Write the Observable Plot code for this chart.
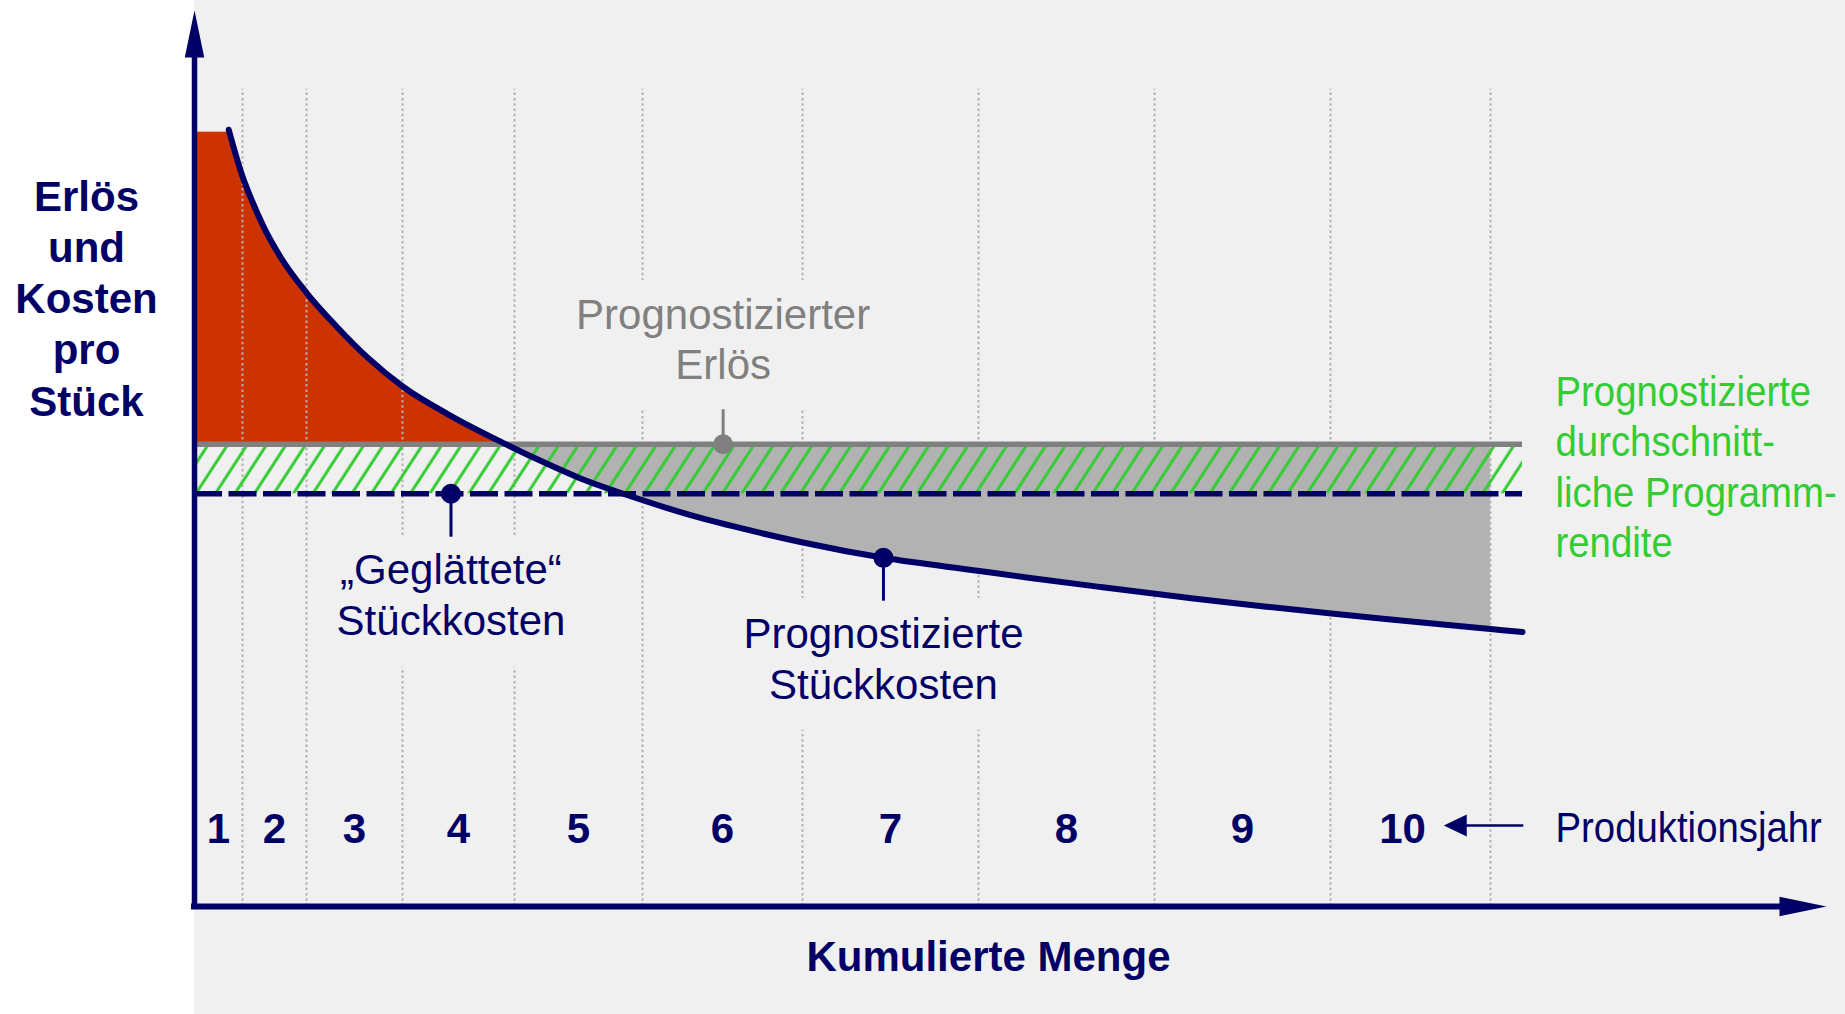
<!DOCTYPE html>
<html><head><meta charset="utf-8">
<script src="https://cdn.jsdelivr.net/npm/d3@7"></script>
<script src="https://cdn.jsdelivr.net/npm/@observablehq/plot@0.6"></script>
<style>
html,body{margin:0;padding:0;}
body{width:1845px;height:1014px;overflow:hidden;background:linear-gradient(to right,#ffffff 194px,#f0f0f0 194px);}
svg{display:block}
</style></head><body><div id="chart"></div>
<script>
// ---- data ----
const years = ["1","2","3","4","5","6","7","8","9","10"];
const annualVolume = [3,4,6,7,8,10,11,11,11,10];           // Menge je Produktionsjahr
const costX = [2.14,2.98,3.5,4.33,5.38,7.04,8.92,10.79,13.08,15.79,19.13,22.04,24.13,26.75,28.06,31.63,35.53,37.88,43.06,49.06,52.25,56.63,60.04,62.56,67.0,71.06,74.44,81.0,83.0];
const costY = [100.56,94.64,91.83,87.95,84.06,79.36,75.0,71.12,67.23,63.79,60.18,57.31,55.41,53.47,52.56,50.30,48.29,47.19,45.14,43.44,42.53,41.36,40.48,39.85,38.81,37.93,37.23,35.93,35.53];
const initialCostCap = 100.25;    // Stückkosten bei Menge 0
const revenue = 59.85;            // Prognostizierter Erlös
const smoothedCost = 53.43;       // "Geglättete" Stückkosten
const lineEnd = 83;               // Ende der Linien (kumulierte Menge)
const yTitle = "Erlös\nund\nKosten\npro\nStück";
const xTitle = "Kumulierte Menge";
const yearCaption = "Produktionsjahr";
const revenueLabel = "Prognostizierter\nErlös";
const smoothedLabel = "„Geglättete“\nStückkosten";
const costLabel = "Prognostizierte\nStückkosten";
const returnLabel = "Prognostizierte\ndurchschnitt-\nliche Programm-\nrendite";
const markerCostX = 43.06, markerCostY = 45.14;
const markerSmoothX = 16.03;
const markerRevenueX = 33.04;

// ---- derived ----
const yearEnds = d3.cumsum(annualVolume);
const yearTable = years.map((label, i) => {
  const start = i === 0 ? 0 : yearEnds[i - 1], end = yearEnds[i];
  return {label, start, end, mid: (start + end) / 2};
});
const cost = costX.map((x, i) => ({x, y: costY[i]}));
const grayData = cost.filter(d => d.x <= yearEnds[yearEnds.length - 1]);

const navy = "#000066", green = "#33cc33", grayLine = "#808080", grayFill = "#b2b2b2", red = "#cc3300", bg = "#f0f0f0";
const font = "Liberation Sans, Arial, Helvetica, sans-serif";

const arrowSymbol = (len, w) => ({draw(ctx) { ctx.moveTo(0, 0); ctx.lineTo(w / 2, len); ctx.lineTo(-w / 2, len); ctx.closePath(); }});
const bigArrow = arrowSymbol(47, 19.5);
const smallArrow = arrowSymbol(23, 22);

const labelMasks = [
  {x1: 22.9, x2: 42.8, y1: 64.2, y2: 81.05},
  {x1: 33.8, x2: 52.25, y1: 22.8, y2: 39.9},
  {x1: 8.5, x2: 23.5, y1: 30.9, y2: 47.9}
];

const txt = {fontSize: 42, fontFamily: font, text: d => d};
const yearText = {x: "mid", frameAnchor: "bottom", dy: -64, text: "label", lineAnchor: "bottom", textAnchor: "middle", fontSize: 42, fontWeight: "bold", fill: navy, fontFamily: font};

const svg = Plot.plot({
  width: 1845, height: 1014,
  marginLeft: 194, marginRight: 19, marginTop: 10, marginBottom: 108,
  x: {domain: [0, 102], axis: null},
  y: {domain: [0, 116], axis: null},
  style: {background: "transparent", fontFamily: font, overflow: "visible"},
  marks: [
    // loss area (cost above revenue)
    Plot.rect([0], {x1: 0, x2: costX[0] + 0.1, y1: revenue, y2: initialCostCap, fill: red}),
    Plot.areaY(cost, {x: "x", y1: revenue, y2: d => Math.max(d.y, revenue), fill: red, curve: "monotone-x"}),
    Plot.ruleX(yearEnds, {y1: 0, y2: 105.8, stroke: "#b0b0b0", strokeWidth: 2, strokeDasharray: "2.5,2.8"}),
    Plot.rect(labelMasks, {x1: "x1", x2: "x2", y1: "y1", y2: "y2", fill: bg}),
    // profit area (cost below revenue)
    Plot.areaY(grayData, {x: "x", y1: d => Math.min(d.y, revenue), y2: revenue, fill: grayFill, curve: "monotone-x"}),
    Plot.rect([0], {x1: 0, x2: lineEnd, y1: smoothedCost, y2: revenue, fill: "url(#hatch)"}),
    Plot.ruleY([revenue], {x1: 0, x2: lineEnd, stroke: grayLine, strokeWidth: 5.5}),
    Plot.ruleY([smoothedCost], {x1: 0, x2: lineEnd, stroke: navy, strokeWidth: 5.5, strokeDasharray: "28,6.5"}),
    Plot.line(cost, {x: "x", y: "y", stroke: navy, strokeWidth: 6, curve: "monotone-x"}),
    // axes
    Plot.ruleX([0], {y1: 0, y2: 111, stroke: navy, strokeWidth: 5.5, strokeLinecap: "square"}),
    Plot.ruleY([0], {x1: 0, x2: 100, stroke: navy, strokeWidth: 6, strokeLinecap: "square"}),
    Plot.dot([0], {x: 0, y: 116, symbol: bigArrow, fill: navy, stroke: "none", r: 10}),
    Plot.dot([0], {x: 102, y: 0, symbol: bigArrow, rotate: 90, fill: navy, stroke: "none", r: 10}),
    // Produktionsjahr arrow
    Plot.ruleY([0], {x1: 79.2, x2: 83.08, dy: -81, stroke: navy, strokeWidth: 2.7}),
    Plot.dot([0], {x: 78.08, y: 0, dy: -81, symbol: smallArrow, rotate: -90, fill: navy, stroke: "none", r: 10}),
    // marker stems and dots
    Plot.ruleX([markerSmoothX], {y1: smoothedCost, y2: smoothedCost - 5.62, stroke: navy, strokeWidth: 3}),
    Plot.ruleX([markerCostX], {y1: markerCostY, y2: markerCostY - 5.61, stroke: navy, strokeWidth: 3}),
    Plot.ruleX([markerRevenueX], {y1: revenue, y2: revenue + 4.46, stroke: grayLine, strokeWidth: 3}),
    Plot.dot([0], {x: markerSmoothX, y: smoothedCost, r: 10, fill: navy, stroke: "none"}),
    Plot.dot([0], {x: markerCostX, y: markerCostY, r: 10, fill: navy, stroke: "none"}),
    Plot.dot([0], {x: markerRevenueX, y: revenue, r: 10, fill: grayLine, stroke: "none"}),
    // year labels (the last one is nudged left to leave room for the arrow)
    Plot.text(yearTable.slice(0, -1), yearText),
    Plot.text(yearTable.slice(-1), {...yearText, dx: -8}),
    // texts
    Plot.text([yTitle], {...txt, frameAnchor: "top-left", dx: -108, dy: 405, textAnchor: "middle", lineAnchor: "bottom", lineHeight: 1.22, fontWeight: "bold", fill: navy}),
    Plot.text([xTitle], {...txt, frameAnchor: "bottom", dx: -22, dy: 64, textAnchor: "middle", lineAnchor: "bottom", fontWeight: "bold", fill: navy}),
    Plot.text([yearCaption], {...txt, frameAnchor: "bottom-left", dx: 1361, dy: -64.3, textAnchor: "start", lineAnchor: "bottom", fill: navy, ariaDescription: "condensed"}),
    Plot.text([returnLabel], {...txt, frameAnchor: "top-left", dx: 1361, dy: 546.7, textAnchor: "start", lineAnchor: "bottom", lineHeight: 1.2, fill: green, ariaDescription: "condensed"}),
    Plot.text([revenueLabel], {...txt, x: markerRevenueX, y: revenue, dy: -65.4, textAnchor: "middle", lineAnchor: "bottom", lineHeight: 1.19, fill: grayLine}),
    Plot.text([smoothedLabel], {...txt, x: markerSmoothX, y: smoothedCost, dy: 141, textAnchor: "middle", lineAnchor: "bottom", lineHeight: 1.214, fill: navy}),
    Plot.text([costLabel], {...txt, x: markerCostX, y: markerCostY, dy: 141, textAnchor: "middle", lineAnchor: "bottom", lineHeight: 1.214, fill: navy})
  ]
});

// hatch pattern definition
const defs = d3.select(svg).insert("defs", ":first-child");
const pat = defs.append("pattern").attr("id", "hatch").attr("patternUnits", "userSpaceOnUse")
  .attr("width", 16.35).attr("height", 20).attr("patternTransform", "rotate(33)");
pat.append("line").attr("x1", 8).attr("x2", 8).attr("y1", -1).attr("y2", 21)
  .attr("stroke", green).attr("stroke-width", 3);

// condensed text (narrower Arial look)
svg.querySelectorAll('g[aria-description="condensed"] text').forEach(t => {
  const tr = t.getAttribute("transform") || "";
  t.setAttribute("transform", tr + " scale(0.913,1)");
});

document.getElementById("chart").appendChild(svg);
</script>
</body></html>
